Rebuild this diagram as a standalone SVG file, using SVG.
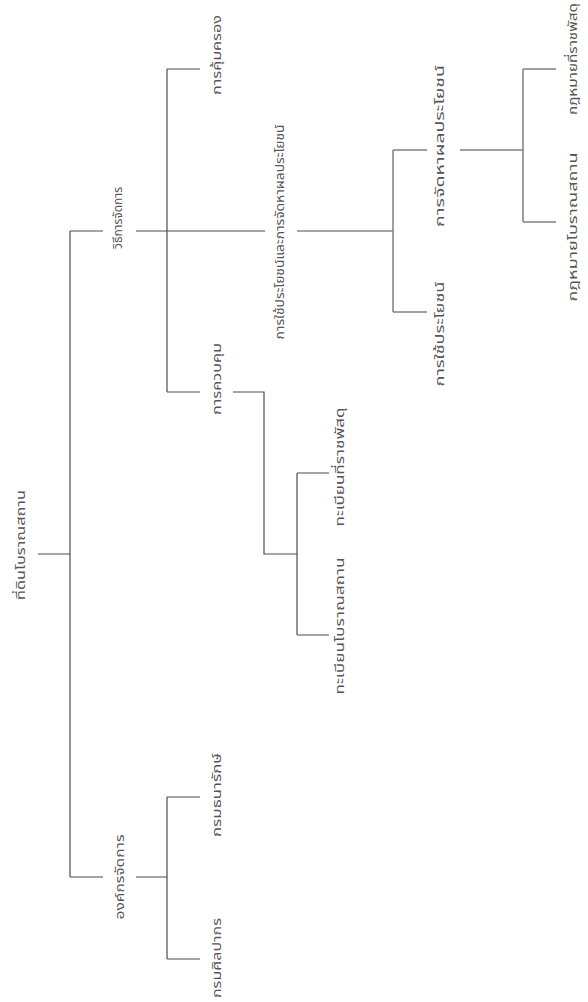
<svg xmlns="http://www.w3.org/2000/svg" width="588" height="1002" viewBox="0 0 588 1002">
<style>
.bg{fill:#ffffff}
.lbl{font-family:"Noto Sans Thai","Noto Sans","DejaVu Sans",sans-serif;font-size:13px;fill:#555555;text-anchor:middle}
.c{stroke:#4d4d4d;stroke-width:1.2;fill:none}
.c2{stroke:#808080;stroke-width:1.5;fill:none}
</style>
<rect class="bg" x="0" y="0" width="588" height="1002"/>
<g id="connectors">
<path class="c" d="M38,554H70M70,231V877M70,231H103M136,231H265M167,69V392M167,69H200M167,392H200M233,392H264V554H297M297,473V635M297,473H329M297,635H329M70,877H103M136,877H167M167,797V959M167,797H200M167,959H200M297,231H393"/>
<path class="c2" d="M393,150V312M393,150H427M393,312H427M460,150H523M523,69V222M523,69H556M523,222H556"/>
</g>
<g id="n-root"><text class="lbl" transform="translate(25,545) rotate(-90)" textLength="110" lengthAdjust="spacingAndGlyphs">ที่ดินโบราณสถาน</text></g>
<g id="n-method"><text class="lbl" transform="translate(122,218) rotate(-90)" textLength="62" lengthAdjust="spacingAndGlyphs">วิธีการจัดการ</text></g>
<g id="n-org"><text class="lbl" transform="translate(124,877) rotate(-90)" textLength="85" lengthAdjust="spacingAndGlyphs">องค์กรจัดการ</text></g>
<g id="n-protect"><text class="lbl" transform="translate(221,55) rotate(-90)" textLength="80" lengthAdjust="spacingAndGlyphs">การคุ้มครอง</text></g>
<g id="n-use"><text class="lbl" transform="translate(284,232) rotate(-90)" textLength="215" lengthAdjust="spacingAndGlyphs">การใช้ประโยชน์และการจัดหาผลประโยชน์</text></g>
<g id="n-control"><text class="lbl" transform="translate(221,379) rotate(-90)" textLength="72" lengthAdjust="spacingAndGlyphs">การควบคุม</text></g>
<g id="n-reg1"><text class="lbl" transform="translate(344,467) rotate(-90)" textLength="119" lengthAdjust="spacingAndGlyphs">ทะเบียนที่ราชพัสดุ</text></g>
<g id="n-reg2"><text class="lbl" transform="translate(344,626) rotate(-90)" textLength="137" lengthAdjust="spacingAndGlyphs">ทะเบียนโบราณสถาน</text></g>
<g id="n-treasury"><text class="lbl" transform="translate(221,795) rotate(-90)" textLength="84" lengthAdjust="spacingAndGlyphs">กรมธนารักษ์</text></g>
<g id="n-fineart"><text class="lbl" transform="translate(221,958) rotate(-90)" textLength="80" lengthAdjust="spacingAndGlyphs">กรมศิลปากร</text></g>
<g id="n-benefit"><text class="lbl" transform="translate(444,146) rotate(-90)" textLength="162" lengthAdjust="spacingAndGlyphs">การจัดหาผลประโยชน์</text></g>
<g id="n-utilize"><text class="lbl" transform="translate(444,334) rotate(-90)" textLength="105" lengthAdjust="spacingAndGlyphs">การใช้ประโยชน์</text></g>
<g id="n-law1"><text class="lbl" transform="translate(577,59) rotate(-90)" textLength="112" lengthAdjust="spacingAndGlyphs">กฎหมายที่ราชพัสดุ</text></g>
<g id="n-law2"><text class="lbl" transform="translate(577,227) rotate(-90)" textLength="149" lengthAdjust="spacingAndGlyphs">กฎหมายโบราณสถาน</text></g>
</svg>
